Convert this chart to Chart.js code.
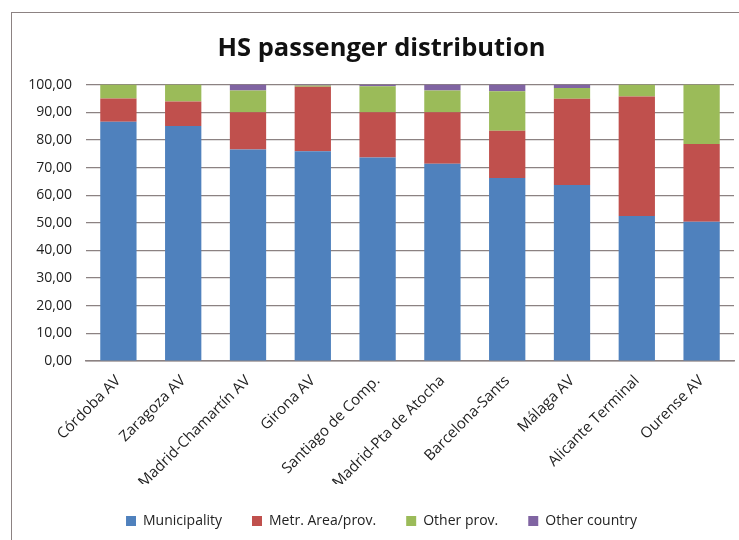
<!DOCTYPE html>
<html>
<head>
<meta charset="utf-8">
<script src="https://cdn.jsdelivr.net/npm/chart.js@4/dist/chart.umd.min.js"></script>
<style>
  html, body { margin: 0; padding: 0; background: #fff; }
  #wrap { position: relative; width: 739px; height: 540px; overflow: hidden; }
  #frame { position: absolute; left: 11px; top: 12px; width: 740px; height: 540px;
           border: 1.5px solid #8c8282; box-sizing: border-box; }
  canvas { position: absolute; left: 0; top: 0; }
</style>
</head>
<body>
<div id="wrap">
  <div id="frame"></div>
  <canvas id="chart" width="739" height="540"></canvas>
</div>
<script>
// stations and share of passengers (%) by origin
const stations = ['Córdoba AV', 'Zaragoza AV', 'Madrid-Chamartín AV', 'Girona AV', 'Santiago de Comp.',
                  'Madrid-Pta de Atocha', 'Barcelona-Sants', 'Málaga AV', 'Alicante Terminal', 'Ourense AV'];
const municipality = [86.6, 85.0, 76.5, 75.9, 73.6, 71.4, 66.2, 63.7, 52.5, 50.4];
const metrArea     = [ 8.4,  8.9, 13.5, 23.3, 16.4, 18.6, 17.1, 31.2, 43.2, 28.1];
const otherProv    = [ 5.0,  6.1,  7.9,  0.5,  9.4,  7.9, 14.3,  3.9,  4.3, 21.5];
const otherCountry = [ 0.0,  0.0,  2.1,  0.3,  0.6,  2.1,  2.4,  1.2,  0.0,  0.0];
const yTicks = [0, 10, 20, 30, 40, 50, 60, 70, 80, 90, 100];

const ctx = document.getElementById('chart').getContext('2d');
const font = 'Open Sans';

const mk = (label, data, color) => ({
    label: label, data: data, backgroundColor: color, borderWidth: 0,
    barPercentage: 0.56, categoryPercentage: 1.0
});

new Chart(ctx, {
    type: 'bar',
    data: {
        labels: stations,
        datasets: [
            mk('Municipality', municipality, '#4f81bd'),
            mk('Metr. Area/prov.', metrArea, '#c0504d'),
            mk('Other prov.', otherProv, '#9bbb59'),
            mk('Other country', otherCountry, '#8064a2')
        ]
    },
    options: {
        responsive: false,
        animation: false,
        layout: { padding: { left: 29, right: 5, top: 33, bottom: 2 } },
        scales: {
            x: {
                stacked: true,
                afterFit: axis => { axis.paddingLeft = 0; axis.paddingRight = 0; axis.height = 123; },
                grid: { display: false, drawTicks: false },
                border: { display: true, color: '#8c8282', width: 1.5 },
                ticks: {
                    minRotation: 45, maxRotation: 45, padding: 11,
                    color: '#222', font: { family: font, size: 15 }
                }
            },
            y: {
                stacked: true,
                min: 0, max: 100,
                afterBuildTicks: axis => { axis.ticks = yTicks.map(v => ({ value: v })); },
                afterFit: axis => { axis.width = 57; },
                grid: { color: '#8c8282', lineWidth: 1.2, drawTicks: false },
                border: { display: false },
                ticks: {
                    padding: 14, color: '#222', font: { family: font, size: 14 },
                    callback: v => v.toFixed(2).replace('.', ',')
                }
            }
        },
        plugins: {
            title: {
                display: true, text: 'HS passenger distribution', color: '#111',
                font: { family: font, size: 25.5, weight: 'bold' },
                padding: { top: 0, bottom: 21 }
            },
            legend: {
                position: 'bottom',
                labels: {
                    boxWidth: 10, boxHeight: 10, padding: 30, color: '#222',
                    font: { family: font, size: 14 }
                }
            },
            tooltip: { enabled: false }
        }
    }
});
</script>
</body>
</html>
